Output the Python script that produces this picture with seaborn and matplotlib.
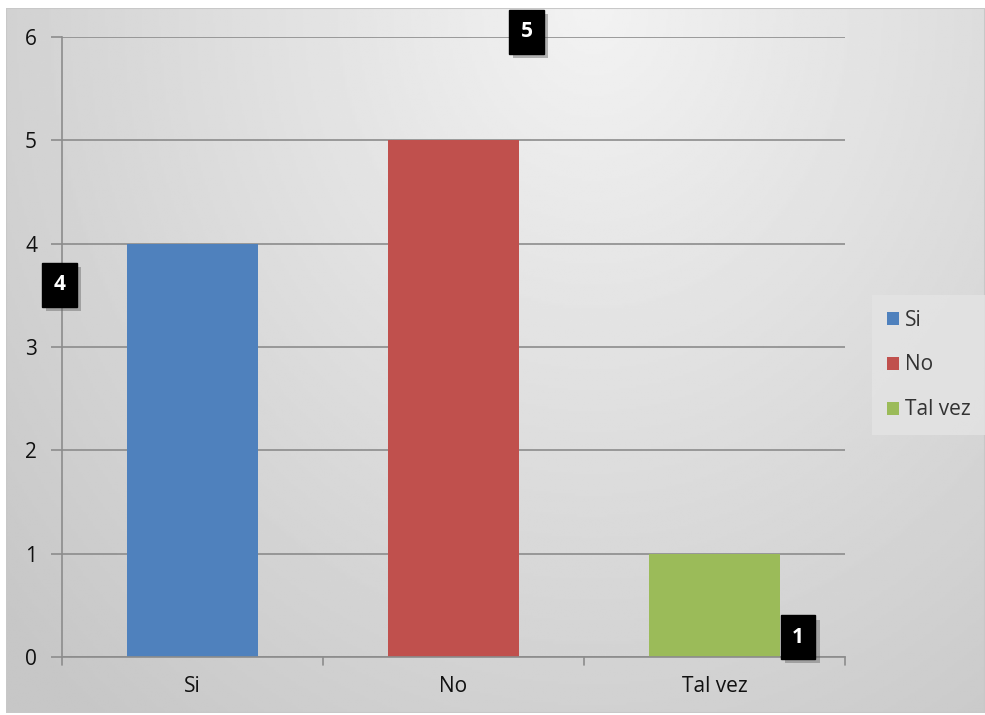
import numpy as np
import pandas as pd
import matplotlib
matplotlib.use("Agg")
import matplotlib.pyplot as plt
import matplotlib.patheffects as pe
import seaborn as sns

categories = ["Si", "No", "Tal vez"]
values = [4, 5, 1]
colors = ["#4F81BD", "#C0504D", "#9BBB59"]
label_pos_x = [-0.51, 1.28, 2.32]
label_pos_y = [3.6, 6.05, 0.19]

sns.set_theme(style="white")
plt.rcParams['font.family'] = ['Open Sans', 'DejaVu Sans']

fig = plt.figure(figsize=(9.85, 7.15), dpi=100)
fig.patch.set_facecolor("white")

# background gradient
bg = fig.add_axes([6/985, 2/715, 979/985, 705/715])
yy, xx = np.mgrid[0:1:300j, 0:1:400j]
r = np.sqrt(((xx - 0.6) / 0.8) ** 2 + ((yy - 0.0) / 1.3) ** 2)
img = 0.95 - 0.17 * np.clip(r, 0, 1)
bg.imshow(img, cmap="gray", vmin=0, vmax=1, aspect="auto", extent=[0, 1, 1, 0])
bg.set_axis_off()
bg.add_patch(plt.Rectangle((0, 0), 1, 1, transform=bg.transAxes, fill=False,
                           edgecolor="#c8c8c8", lw=1.5))

ax = fig.add_axes([62/985, 1 - 657/715, (845 - 62)/985, (657 - 37)/715])
ax.patch.set_alpha(0)
df = pd.DataFrame({"cat": categories, "val": values})
sns.barplot(data=df, x="cat", y="val", hue="cat", palette=colors, width=0.5,
            dodge=False, ax=ax, legend=False, saturation=1, linewidth=0,
            edgecolor="none")
ax.set_xlim(-0.5, 2.5)
ax.set_ylim(0, 6)
ax.set_yticks(range(0, 7))
ax.set_xlabel("")
ax.set_ylabel("")
ax.yaxis.grid(True, color="#8c8c8c", lw=1.2)
ax.set_axisbelow(True)
for side in ["top", "right"]:
    ax.spines[side].set_visible(False)
for side in ["left", "bottom"]:
    ax.spines[side].set_color("#8c8c8c")
    ax.spines[side].set_linewidth(1.2)
ax.tick_params(axis="y", length=8, width=1.2, color="#8c8c8c", labelsize=15,
               labelcolor="#111111", pad=10, left=True)
ax.tick_params(axis="x", length=0, labelsize=15, labelcolor="#111111", pad=14)
for xb in [-0.5, 0.5, 1.5, 2.5]:
    ax.plot([xb, xb], [0, -0.08], color="#8c8c8c", lw=1.2, clip_on=False)

# data labels
for v, lx, ly in zip(values, label_pos_x, label_pos_y):
    t = ax.text(lx, ly, str(v), color="white", fontsize=15, fontweight="bold",
                ha="center", va="center",
                bbox=dict(boxstyle="square,pad=0.55", fc="black", ec="black"))
    t.get_bbox_patch().set_path_effects([
        pe.SimplePatchShadow(offset=(3, -3), shadow_rgbFace="#666666", alpha=0.45),
        pe.Normal()])

# legend
handles = [plt.Rectangle((0, 0), 1, 1, fc=c, ec="none") for c in colors]
leg = fig.legend(handles, categories, loc="center left",
                 bbox_to_anchor=(872/985, 1 - 365/715), frameon=True,
                 fontsize=15, handlelength=0.6, handleheight=0.6,
                 handletextpad=0.3, labelspacing=1.15, borderpad=0.7,
                 borderaxespad=0, fancybox=False)
leg.get_frame().set_facecolor("#e4e4e4")
leg.get_frame().set_edgecolor("none")
for txt in leg.get_texts():
    txt.set_color("#333333")

fig.savefig("out.png", dpi=100)
